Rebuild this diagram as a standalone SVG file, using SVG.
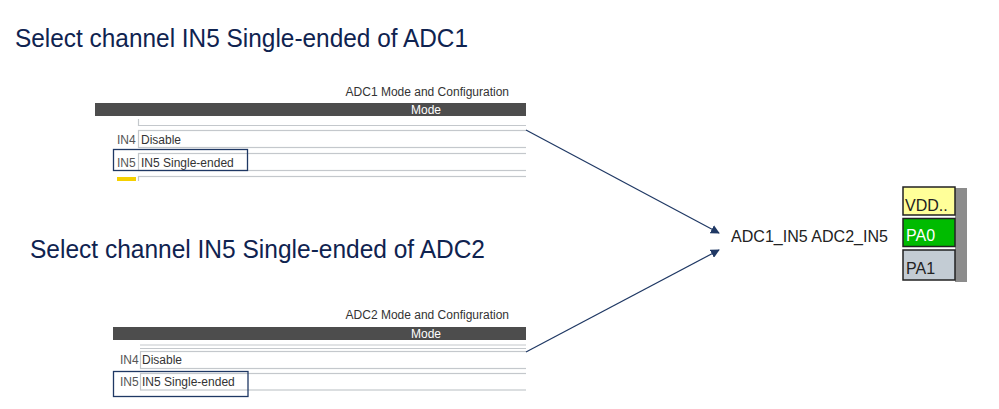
<svg xmlns="http://www.w3.org/2000/svg" width="999" height="409" viewBox="0 0 999 409">
<defs>
<style>
.title{font-family:"Liberation Sans",Arial,sans-serif;font-size:25px;fill:#0f2350}
.cap{font-family:"Liberation Sans",Arial,sans-serif;font-size:12px;fill:#333}
.mode{font-family:"Liberation Sans",Arial,sans-serif;font-size:12px;fill:#fff}
.lbl{font-family:"Liberation Sans",Arial,sans-serif;font-size:12px;fill:#555}
.val{font-family:"Liberation Sans",Arial,sans-serif;font-size:12px;fill:#333}
.bar{fill:#4d4d4d}
.row{fill:#fff;stroke:#c4c8cc;stroke-width:1.2}
.sel{fill:none;stroke:#1f3864;stroke-width:1.3}
.conn{stroke:#1f3864;stroke-width:1.2;fill:none;marker-end:url(#ah)}
.pin{stroke:#222;stroke-width:1.5}
.pint{font-family:"Liberation Sans",Arial,sans-serif;font-size:16px}
</style>
<marker id="ah" viewBox="0 0 10 10" refX="9" refY="5" markerWidth="9" markerHeight="9" markerUnits="userSpaceOnUse" orient="auto">
<path d="M0,0 L10,5 L0,10 z" fill="#1f3864"/>
</marker>
<clipPath id="c1"><rect x="0" y="0" width="999" height="181"/></clipPath>
</defs>
<rect width="999" height="409" fill="#fff"/>

<g id="title1"><text class="title" x="15" y="47" textLength="453" lengthAdjust="spacingAndGlyphs">Select channel IN5 Single-ended of ADC1</text></g>
<g id="title2"><text class="title" x="30" y="258" textLength="455" lengthAdjust="spacingAndGlyphs">Select channel IN5 Single-ended of ADC2</text></g>

<g id="adc1-panel" clip-path="url(#c1)">
<text class="cap" x="509" y="96" text-anchor="end">ADC1 Mode and Configuration</text>
<rect class="bar" x="95" y="103" width="431" height="13"/>
<text class="mode" x="426" y="114" text-anchor="middle">Mode</text>
<path d="M138.5,119 V125.5 H526" fill="none" stroke="#c4c8cc" stroke-width="1.2"/>
<rect class="row" x="138.5" y="130.5" width="400" height="17"/>
<text class="lbl" x="117" y="144">IN4</text>
<text class="val" x="141" y="144">Disable</text>
<rect class="row" x="138.5" y="153.5" width="400" height="17"/>
<text class="lbl" x="117" y="167">IN5</text>
<text class="val" x="141" y="167">IN5 Single-ended</text>
<rect class="sel" x="113.5" y="149.5" width="134" height="21"/>
<rect x="117" y="177" width="19" height="6" fill="#f5d000"/>
<rect class="row" x="138.5" y="176.5" width="400" height="17"/>
<text class="lbl" x="117" y="190">IN6</text>
<text class="val" x="141" y="190">Disable</text>
<rect x="526" y="100" width="20" height="90" fill="#fff"/>
</g>

<g id="adc2-panel">
<text class="cap" x="509" y="319" text-anchor="end">ADC2 Mode and Configuration</text>
<rect class="bar" x="113" y="327" width="413" height="13"/>
<text class="mode" x="426" y="337.5" text-anchor="middle">Mode</text>
<path d="M140,345 H526 M140,348.5 H526" fill="none" stroke="#c4c8cc" stroke-width="1.2"/>
<rect class="row" x="140.5" y="351.5" width="400" height="17"/>
<text class="lbl" x="120" y="364">IN4</text>
<text class="val" x="142" y="364">Disable</text>
<rect class="row" x="140.5" y="373.5" width="400" height="16.5"/>
<text class="lbl" x="120" y="386">IN5</text>
<text class="val" x="142" y="386">IN5 Single-ended</text>
<rect class="sel" x="113.5" y="371.5" width="134.5" height="25"/>
<rect x="526" y="340" width="20" height="60" fill="#fff"/>
</g>

<g id="connectors">
<path class="conn" d="M526,130 L719,233"/>
<path class="conn" d="M526,352 L719,250"/>
</g>

<g id="pin-label"><text x="731" y="242" font-family="'Liberation Sans',Arial,sans-serif" font-size="16" fill="#222" textLength="157" lengthAdjust="spacingAndGlyphs">ADC1_IN5 ADC2_IN5</text></g>

<g id="pins">
<rect x="955" y="188" width="12" height="94" fill="#8c8c8c"/>
<rect class="pin" x="903" y="187" width="52" height="28" fill="#ffff99"/>
<text class="pint" x="905" y="211" fill="#222">VDD..</text>
<rect class="pin" x="903" y="218.5" width="52" height="28" fill="#00bb00"/>
<text class="pint" x="906" y="241" fill="#fff">PA0</text>
<rect class="pin" x="903" y="250" width="52" height="30" fill="#c3ccd4"/>
<text class="pint" x="906" y="274" fill="#222">PA1</text>
</g>
</svg>
